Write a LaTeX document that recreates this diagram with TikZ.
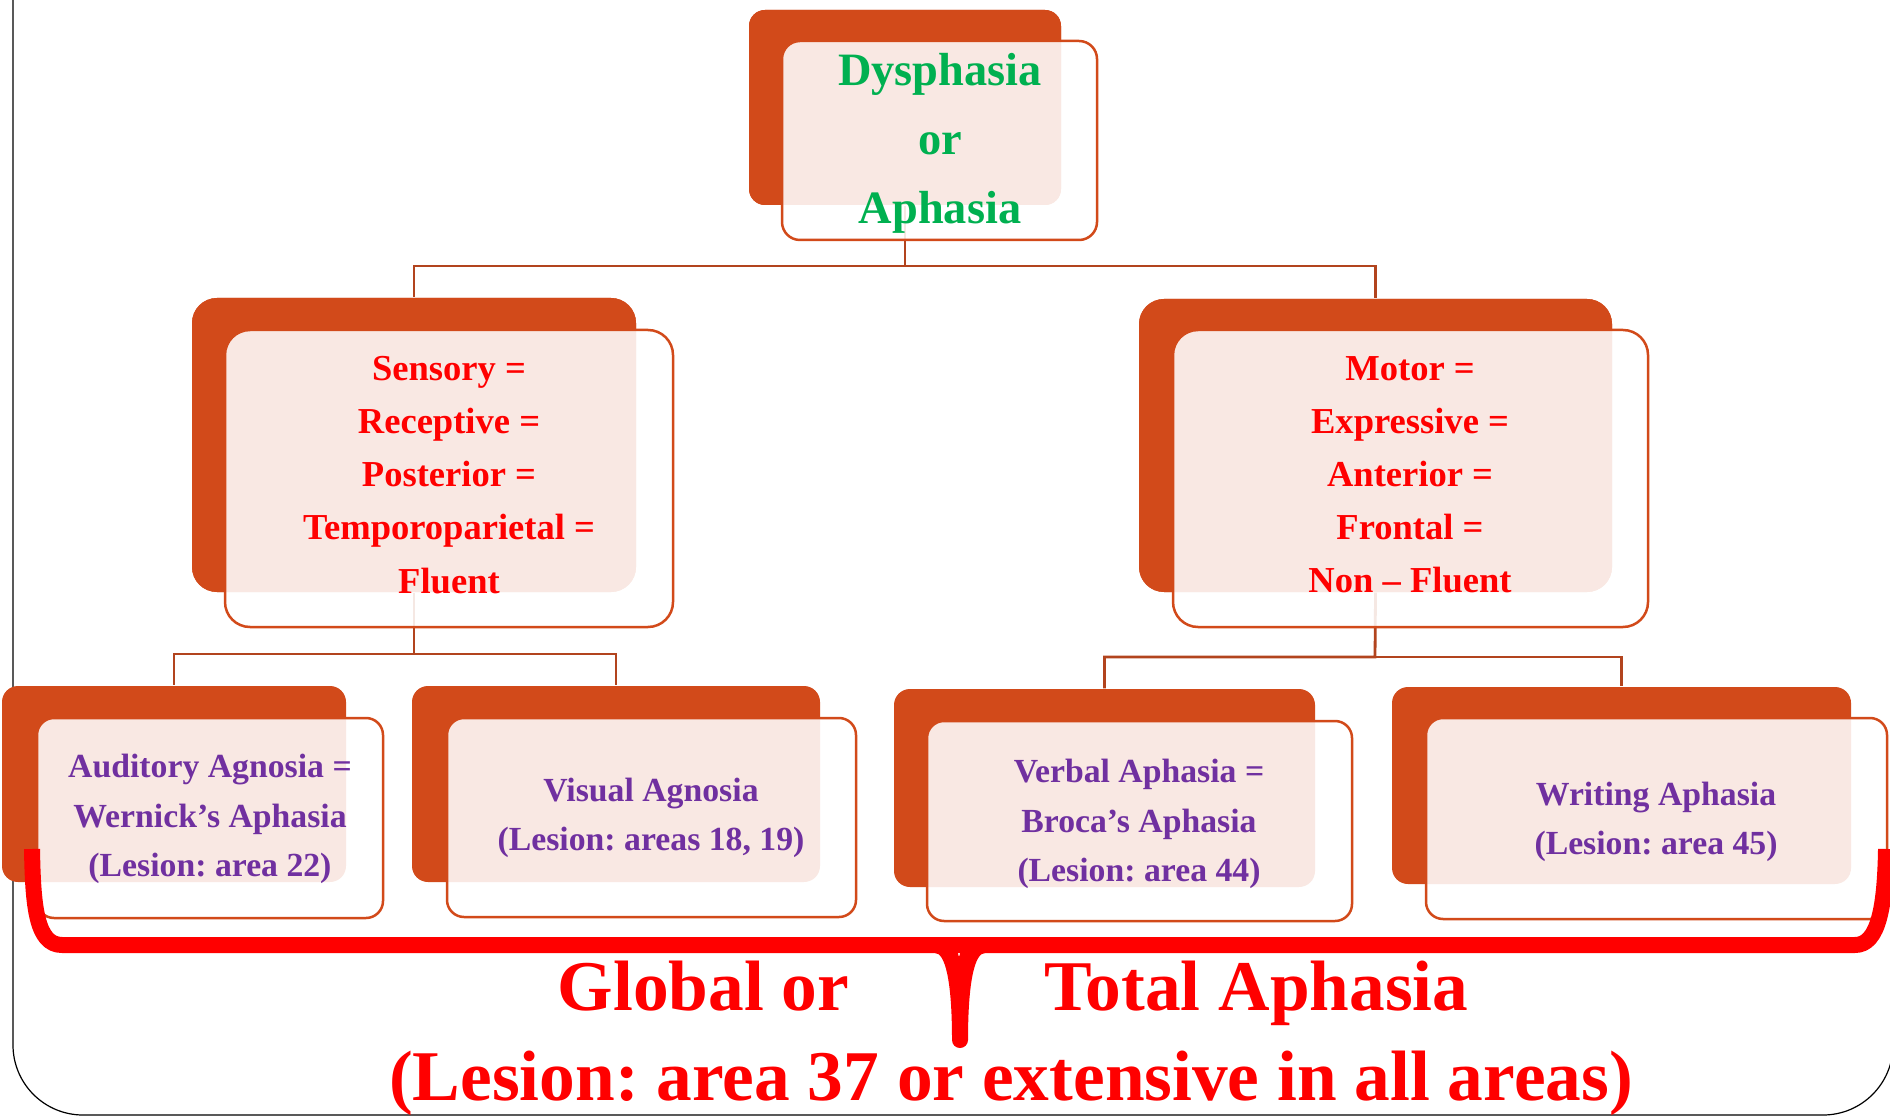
\documentclass[tikz,border=0pt]{standalone}
\usepackage{fontspec}
\setmainfont{Liberation Serif}
\frenchspacing
\usetikzlibrary{fit}
\definecolor{boxor}{RGB}{210,74,26}
\definecolor{connc}{RGB}{178,68,30}
\definecolor{txpurple}{RGB}{112,48,160}
\definecolor{txgreen}{RGB}{0,176,80}
\definecolor{txred}{RGB}{255,0,0}
\begin{document}
\begin{tikzpicture}[x=0.1mm,y=-0.1mm,
  backbox/.style={fill=boxor, draw=none, inner sep=0pt, rounded corners=#1},
  backbox/.default=1.6mm,
  frontbox/.style={draw=boxor, line width=0.25mm, fill=white, fill opacity=0.88, inner sep=0pt, rounded corners=#1},
  frontbox/.default=1.8mm,
  conn/.style={draw=connc, line width=0.28mm},
  toptxt/.style={text=txgreen, font=\fontsize{13.2}{19.6}\selectfont\bfseries, align=center, inner sep=0pt},
  midtxt/.style={text=txred, font=\fontsize{10.4}{15.1}\selectfont\bfseries, align=center, inner sep=0pt},
  lowtxt/.style={text=txpurple, font=\fontsize{9.6}{14.0}\selectfont\bfseries, align=center, inner sep=0pt},
  bigtxt/.style={text=txred, font=\fontsize{20.3}{24}\selectfont\bfseries, inner sep=0pt},
  bracestroke/.style={draw=txred, line width=1.6mm, line cap=butt, line join=round},
  framestroke/.style={draw=black, line width=0.12mm}
]
\useasboundingbox (0,0) rectangle (1890,1117);
\clip (0,0) rectangle (1890,1117);
% outer frame
\draw[framestroke, rounded corners=7mm] (13,-100) rectangle (1893,1115);

% back boxes
\node[backbox=1.6mm, fit={(749,10) (1061,205)}] (topB) {};
\node[backbox=2.5mm, fit={(192,298) (636,592)}] (midLB) {};
\node[backbox=2.5mm, fit={(1139,299) (1612,592)}] (midRB) {};
\node[backbox=1.6mm, fit={(2,686) (346,882)}] (b1B) {};
\node[backbox=1.6mm, fit={(412,686) (820,882)}] (b2B) {};
\node[backbox=1.6mm, fit={(894,689) (1315,887)}] (b3B) {};
\node[backbox=1.6mm, fit={(1392,687) (1851,884)}] (b4B) {};

% connectors
\coordinate (bus1) at (905,266);
\coordinate (bus2) at (414,654);
\coordinate (bus3) at (1375,657);
\draw[conn] (topB.south) -- (bus1) -| (midLB.north);
\draw[conn] (bus1) -| (midRB.north);
\draw[conn] (midLB.south) -- (bus2) -| (b1B.north);
\draw[conn] (bus2) -| (b2B.north);
\draw[conn] (midRB.south) -- (bus3) -| (b3B.north);
\draw[conn] (bus3) -| (b4B.north);

% redraw back boxes over connector ends
\fill[boxor, rounded corners=1.6mm] (749,10) rectangle (1061,205);
\fill[boxor, rounded corners=2.5mm] (192,298) rectangle (636,592);
\fill[boxor, rounded corners=2.5mm] (1139,299) rectangle (1612,592);

% front boxes
\node[frontbox=1.8mm, fit={(782,41) (1097,240)}] (topF) {};
\node[frontbox=2.5mm, fit={(225,330) (673,627)}] (midLF) {};
\node[frontbox=2.5mm, fit={(1173,330) (1648,627)}] (midRF) {};
\node[frontbox=1.7mm, fit={(37,718) (383,918)}] (b1F) {};
\node[frontbox=1.7mm, fit={(447,718) (856,917)}] (b2F) {};
\node[frontbox=1.7mm, fit={(927,721) (1352,921)}] (b3F) {};
\node[frontbox=1.7mm, fit={(1426,718) (1887,919)}] (b4F) {};

% texts
\node[toptxt] (t0) at (940,143) {Dysphasia\\or\\Aphasia};
\node[midtxt] (tL) at (449,475) {Sensory =\\Receptive =\\Posterior =\\Temporoparietal =\\Fluent};
\node[midtxt] (tR) at (1410,475) {Motor =\\Expressive =\\Anterior =\\Frontal =\\Non – Fluent};
\node[lowtxt] (tb1) at (210,819) {Auditory Agnosia =\\Wernick’s Aphasia\\(Lesion: area 22)};
\node[lowtxt] (tb2) at (651,818) {Visual Agnosia\\(Lesion: areas 18, 19)};
\node[lowtxt] (tb3) at (1139,824) {Verbal Aphasia =\\Broca’s Aphasia\\(Lesion: area 44)};
\node[lowtxt] (tb4) at (1656,822) {Writing Aphasia\\(Lesion: area 45)};

% red brace
\draw[bracestroke] (32,849) .. controls (33,905) and (36,945) .. (62,945) -- (1855,945) .. controls (1879,945) and (1885,905) .. (1886,849);
\fill[txred] (935,937) .. controls (950,937) and (956,945) .. (959,957) .. controls (962,945) and (968,937) .. (985,937) -- (985,953) .. controls (975,953) and (968,980) .. (968,1040) -- (952,1040) .. controls (952,980) and (945,953) .. (935,953) -- cycle;
\fill[txred] (960,1040) circle[radius=8];

% big texts
\node[bigtxt, anchor=base west] (g1) at (557,1010) {Global or};
\node[bigtxt, anchor=base west] (g2) at (1044,1010) {Total Aphasia};
\node[bigtxt, anchor=base] (g3) at (1011,1100) {(Lesion: area 37 or extensive in all areas)};
\end{tikzpicture}
\end{document}
